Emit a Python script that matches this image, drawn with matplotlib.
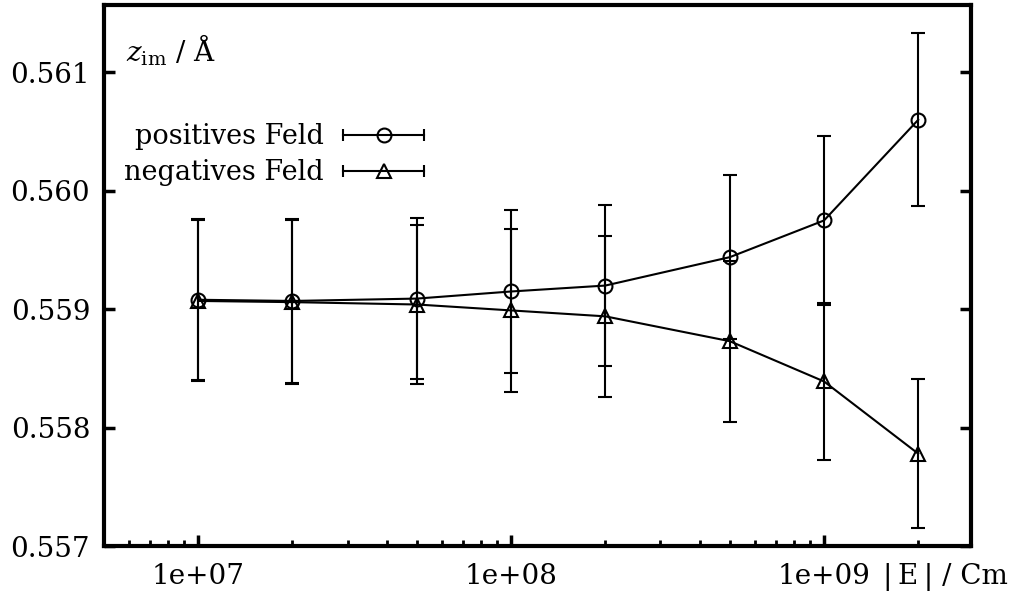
import matplotlib
matplotlib.use("Agg")
import matplotlib.pyplot as plt
from matplotlib.lines import Line2D
from matplotlib.legend_handler import HandlerLine2D, HandlerTuple
from matplotlib.ticker import LogLocator, FuncFormatter, NullFormatter

# |E| in V/m (log axis)
field = [1e7, 2e7, 5e7, 1e8, 2e8, 5e8, 1e9, 2e9]

# z_im in Angstrom, with error bars
pos_z = [0.55908, 0.55907, 0.55909, 0.55915, 0.55920, 0.55944, 0.55975, 0.56060]
pos_err = [0.00068, 0.00069, 0.00068, 0.00069, 0.00068, 0.00069, 0.00071, 0.00073]
neg_z = [0.55907, 0.55906, 0.55904, 0.55899, 0.55894, 0.55873, 0.55839, 0.55778]
neg_err = [0.00068, 0.00069, 0.00067, 0.00069, 0.00068, 0.00068, 0.00066, 0.00063]

labels = ["positives Feld", "negatives Feld"]
y_ticks = [0.557, 0.558, 0.559, 0.560, 0.561]

plt.rcParams['font.family'] = ['DejaVu Serif']
plt.rcParams['mathtext.fontset'] = 'dejavuserif'

fig = plt.figure(figsize=(10.23, 6.01), dpi=100)
ax = fig.add_axes([0.1017, 0.0915, 0.8475, 0.9002])

lw = 1.5
style = dict(color='black', lw=lw, elinewidth=lw, capthick=lw, capsize=5,
             mfc='none', mew=lw, ms=10)
ax.errorbar(field, pos_z, yerr=pos_err, marker='o', **style)
ax.errorbar(field, neg_z, yerr=neg_err, marker='^', **style)

ax.set_xscale('log')
ax.set_xlim(5e6, 2.95e9)
ax.set_ylim(0.557, 0.56157)
ax.set_yticks(y_ticks)
ax.yaxis.set_major_formatter(FuncFormatter(lambda v, p: f'{v:.3f}'))
ax.xaxis.set_major_locator(LogLocator(base=10, numticks=10))
ax.xaxis.set_minor_locator(LogLocator(base=10, subs=range(2, 10), numticks=20))
ax.xaxis.set_minor_formatter(NullFormatter())
ax.xaxis.set_major_formatter(FuncFormatter(lambda v, p: f'{v:.0e}'))

for s in ax.spines.values():
    s.set_linewidth(3)
ax.tick_params(which='both', direction='in', top=False, right=True, labelsize=20)
ax.tick_params(which='major', length=8, width=2.5)
ax.tick_params(which='minor', length=4, width=2)
ax.tick_params(axis='x', pad=12)
ax.tick_params(axis='y', pad=10)

ax.text(0.025, 0.895, r'$z_{\mathrm{im}}$ / Å', transform=ax.transAxes,
        fontsize=20, va='baseline', ha='left')
fig.text(0.863, 0.040, '|\u2009E\u2009| / Cm', fontsize=20, va='center', ha='left')

# gnuplot-style legend: horizontal line with end caps + marker
caps = [Line2D([], [], color='black', lw=lw, marker='|', ms=9, mew=lw) for _ in labels]
marks = [Line2D([], [], color='black', ls='none', marker=m, ms=10, mfc='none', mew=lw)
         for m in ['o', '^']]
hmap = {tuple: HandlerTuple(ndivide=1, pad=0)}
for c in caps:
    hmap[c] = HandlerLine2D(numpoints=2, marker_pad=0)
for m in marks:
    hmap[m] = HandlerLine2D(numpoints=1)
ax.legend([(caps[0], marks[0]), (caps[1], marks[1])], labels,
          handler_map=hmap, loc='upper right', bbox_to_anchor=(0.385, 0.806),
          frameon=False, fontsize=19.5, markerfirst=False, borderpad=0,
          handlelength=3.0, handletextpad=0.7, labelspacing=0.33)

fig.savefig('out.png', dpi=100)
